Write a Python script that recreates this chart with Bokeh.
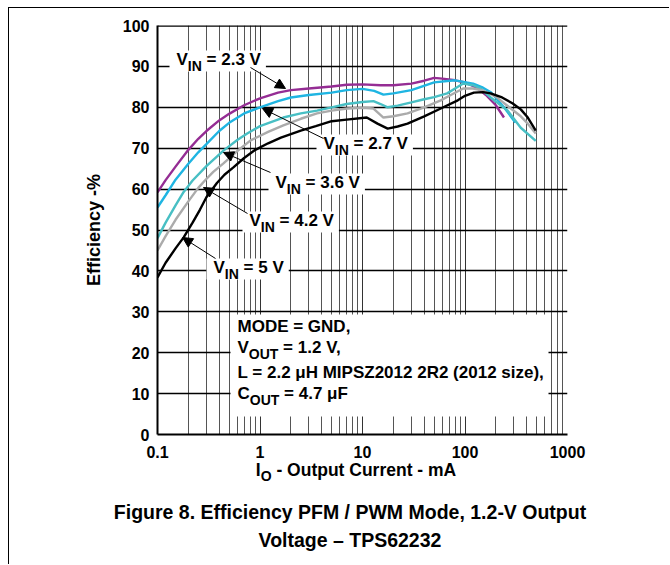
from bokeh.plotting import figure
from bokeh.layouts import column
from bokeh.models import (Range1d, FixedTicker, CustomJSTickFormatter, Label,
                          BoxAnnotation, Arrow, NormalHead, Span, Div, InlineStyleSheet)
from bokeh.embed import file_html
from bokeh.resources import INLINE

# ---------------- data ----------------
cur_23 = [0.1, 0.12, 0.15, 0.2, 0.25, 0.3, 0.4, 0.5, 0.7, 1, 1.5, 2, 3, 5, 7, 10, 15, 20, 30, 40, 50, 60, 80, 100, 130, 160, 200, 240]
eff_23 = [59.2, 62.2, 65.5, 69.6, 72.3, 74.2, 76.8, 78.4, 80.5, 82.2, 83.6, 84.2, 84.6, 85.1, 85.5, 85.6, 85.4, 85.4, 85.8, 86.5, 87.2, 87.0, 86.6, 86.1, 84.8, 83.0, 80.5, 77.5]

cur_27 = [0.1, 0.12, 0.15, 0.2, 0.25, 0.3, 0.4, 0.5, 0.7, 1, 1.5, 2, 3, 5, 7, 10, 13, 16, 20, 30, 50, 80, 120, 150, 180, 240, 310]
eff_27 = [55.5, 58.5, 62.3, 66.2, 69.0, 71.0, 74.2, 76.2, 78.5, 80.0, 81.5, 82.4, 83.0, 83.6, 84.2, 84.5, 84.0, 83.1, 83.4, 84.2, 86.1, 86.6, 85.8, 84.8, 83.6, 80.0, 76.3]

cur_36 = [0.1, 0.12, 0.15, 0.18, 0.22, 0.3, 0.44, 0.6, 0.75, 1.0, 1.69, 2.5, 3.6, 5, 7, 10, 12.8, 15, 17.6, 22, 30, 39, 50, 67, 80, 96, 120, 142, 178, 260, 350, 490]
eff_36 = [48.0, 51.8, 56.0, 59.3, 62.1, 65.6, 69.4, 72.0, 73.6, 75.4, 77.5, 78.5, 79.2, 80.0, 80.8, 81.3, 81.5, 80.8, 80.0, 80.4, 81.2, 81.9, 82.5, 83.4, 84.6, 85.8, 85.4, 84.6, 82.4, 79.2, 75.0, 71.8]

cur_42 = [0.1, 0.12, 0.15, 0.2, 0.25, 0.29, 0.35, 0.44, 0.6, 0.81, 1.2, 1.69, 2.5, 3.6, 5, 7.1, 10, 12.8, 16, 20, 27.5, 40, 58, 75, 96, 120, 150, 200, 280, 350, 410, 490]
eff_42 = [45.0, 48.5, 52.5, 57.0, 60.3, 62.1, 64.2, 66.3, 69.3, 71.9, 74.0, 75.6, 77.2, 78.5, 79.2, 79.7, 79.9, 79.7, 77.5, 77.8, 78.5, 80.0, 81.7, 83.2, 84.6, 84.6, 84.1, 82.6, 79.7, 77.8, 76.0, 73.6]

cur_50 = [0.1, 0.12, 0.15, 0.18, 0.22, 0.26, 0.3, 0.38, 0.45, 0.55, 0.7, 0.9, 1.2, 1.6, 2.5, 3.5, 5, 7, 11, 14, 17.6, 22, 27.5, 40, 58, 85, 100, 122, 150, 178, 230, 290, 350, 410, 490]
eff_50 = [38.4, 42.0, 45.5, 48.2, 51.8, 55.0, 58.0, 61.5, 63.5, 65.3, 67.6, 69.6, 71.2, 72.6, 74.3, 75.4, 76.6, 77.0, 77.5, 76.0, 74.8, 75.3, 76.0, 77.8, 79.7, 81.7, 82.8, 83.6, 83.7, 83.4, 82.4, 81.0, 79.5, 77.5, 74.3]

series_names = ["2.3 V", "2.7 V", "3.6 V", "4.2 V", "5 V"]

x_ticks = [0.1, 1, 10, 100, 1000]
x_tick_labels = ["0.1", "1", "10", "100", "1000"]
x_minor = [m * d for d in (0.1, 1, 10, 100) for m in range(2, 10)]
y_ticks = list(range(0, 101, 10))

caption_1 = "Figure 8. Efficiency PFM / PWM Mode, 1.2-V Output"
caption_2 = "Voltage – TPS62232"

# ---------------- layout helpers ----------------
W, H = 670, 462
FL, FT, FR, FB = 157, 25, 567, 434      # plot frame in page px

def X(px):   # page px -> data x
    return 10 ** (-1 + 4.0 * (px - FL) / (FR - FL))

def Y(py):   # page px -> data y
    return 100.0 * (FB - py) / (FB - FT)

FONT = "Liberation Sans"
AW = {' ': 278, '=': 584, '.': 278, ',': 278, '-': 333, '(': 333, ')': 333, '%': 889,
      'A': 722, 'C': 722, 'D': 722, 'E': 667, 'F': 611, 'G': 778, 'H': 722, 'I': 278,
      'L': 611, 'M': 833, 'N': 722, 'O': 778, 'P': 667, 'R': 722, 'S': 667, 'T': 611,
      'U': 722, 'V': 667, 'W': 944, 'Z': 611, 'μ': 576, 's': 556, 'i': 278, 'z': 500,
      'e': 556}

def tw(s, size):
    return sum(AW.get(c, 556) for c in s) * size / 1000.0

p = figure(width=W, height=H, x_axis_type="log",
           x_range=Range1d(0.1, 1000), y_range=Range1d(0, 100),
           output_backend="svg", toolbar_location=None,
           min_border_left=FL, min_border_right=W - FR,
           min_border_top=FT, min_border_bottom=H - FB)
p.outline_line_color = None
p.background_fill_color = "white"
p.border_fill_color = "white"

# axes
p.xaxis.ticker = FixedTicker(ticks=x_ticks, minor_ticks=x_minor)
p.xaxis.formatter = CustomJSTickFormatter(args=dict(xt=x_ticks, xl=x_tick_labels), code="""
const i = xt.findIndex(t => Math.abs(Math.log10(t) - Math.log10(tick)) < 1e-6);
return i >= 0 ? xl[i] : '';
""")
p.yaxis.ticker = FixedTicker(ticks=y_ticks)
for ax in (p.xaxis, p.yaxis):
    ax.axis_line_color = "black"
    ax.axis_line_width = 2
    ax.major_tick_line_color = None
    ax.minor_tick_line_color = None
    ax.major_label_text_font = FONT
    ax.major_label_text_font_style = "bold"
    ax.major_label_text_font_size = "16px"
    ax.major_label_text_color = "black"
p.yaxis.major_label_standoff = 2
p.xaxis.major_label_standoff = 5
p.yaxis.axis_label = "Efficiency -%"
p.yaxis.axis_label_text_font = FONT
p.yaxis.axis_label_text_font_style = "bold"
p.yaxis.axis_label_text_font_size = "18px"
p.yaxis.axis_label_text_color = "black"
p.yaxis.axis_label_standoff = 16

# grids
p.xgrid.grid_line_color = "#333333"
p.xgrid.grid_line_width = 1
p.xgrid.minor_grid_line_color = "#555555"
p.xgrid.minor_grid_line_width = 1
p.ygrid.grid_line_color = "black"
p.ygrid.grid_line_width = 1.3
p.add_layout(Span(location=100, dimension="width", line_color="black", line_width=2.5))

# curves
colors = ["#952D94", "#1FB5E2", "#48BFC4", "#ABABAB", "#000000"]
for xs, ys, c in zip([cur_23, cur_27, cur_36, cur_42, cur_50],
                     [eff_23, eff_27, eff_36, eff_42, eff_50], colors):
    p.line(xs, ys, line_color=c, line_width=2.4)

# white label backgrounds + labels
def comp(left, cy, parts, boxpad=None):
    x = left
    placed = []
    for txt, size, dy, gap in parts:
        x += gap
        placed.append((x, txt, size, dy))
        x += tw(txt, size)
    if boxpad is not None:
        l, r, t, b = boxpad
        p.add_layout(BoxAnnotation(left=X(left - l), right=X(x + r), top=Y(cy - t),
                                   bottom=Y(cy + b), fill_color="white", fill_alpha=1,
                                   line_color=None, level="annotation"))
    for px, txt, size, dy in placed:
        p.add_layout(Label(x=X(px), y=Y(cy + dy), text=txt, text_font=FONT,
                           text_font_style="bold", text_font_size=f"{size}px",
                           text_color="black", text_baseline="middle", text_align="left"))
    return x

def vin(left, cy, name):
    return comp(left, cy, [("V", 17, 0, 0), ("IN", 14, 6, 0),
                           ("= " + name, 17, 0, tw(" ", 17))], boxpad=(7, 5, 9, 12))

label_pos = [(176, 59), (323, 143), (275, 182), (249, 220), (213, 267)]
arrows = [((250, 67), (285, 88)), ((323, 138), (262, 108)), ((270, 172), (223, 152)),
          ((247, 213), (203, 187)), ((215, 258), (182, 237))]
for name, (lx, ly) in zip(series_names, label_pos):
    vin(lx, ly, name)
for (s, e) in arrows:
    p.add_layout(Arrow(end=NormalHead(size=10, fill_color="black", line_color="black"),
                       x_start=X(s[0]), y_start=Y(s[1]), x_end=X(e[0]), y_end=Y(e[1]),
                       line_color="black", line_width=1))

# conditions box
p.add_layout(BoxAnnotation(left=X(230), right=X(548), top=Y(314), bottom=Y(416),
                           fill_color="white", fill_alpha=1, line_color=None))
comp(237, 326, [("MODE = GND,", 17, 0, 0)])
comp(237, 347, [("V", 17, 0, 0), ("OUT", 14, 6, 0), ("= 1.2 V,", 17, 0, tw(" ", 17))])
comp(237, 372, [("L = 2.2 μH MIPSZ2012 2R2 (2012 size),", 17, 0, 0)])
comp(237, 393, [("C", 17, 0, 0), ("OUT", 14, 6, 0), ("= 4.7 μF", 17, 0, tw(" ", 17))])

# x-axis title (with subscript) and figure caption, below the canvas
DH = 565 - H - 1
html = f"""
<div style="position:relative;width:{W}px;height:{DH}px;font-family:'{FONT}';font-weight:bold;color:#000;">
  <div style="position:absolute;left:0;top:-2px;width:712px;text-align:center;font-size:17.5px;line-height:20px;white-space:nowrap;">I<span style="font-size:14px;position:relative;top:5px;">O</span> - Output Current - mA</div>
  <div style="position:absolute;left:0;top:39px;width:700px;text-align:center;font-size:19.5px;line-height:22px;white-space:nowrap;">{caption_1}</div>
  <div style="position:absolute;left:0;top:67px;width:700px;text-align:center;font-size:19.5px;line-height:22px;white-space:nowrap;">{caption_2}</div>
</div>
"""
div = Div(text=html, width=W, height=DH, margin=0)

frame_css = InlineStyleSheet(css="""
:host::after { content: ""; position: absolute; left: 8px; top: 7px; right: 1px; bottom: 0px;
  border-left: 1.5px solid #000; border-top: 1.5px solid #000; pointer-events: none; z-index: 10; }
""")
layout = column(p, div, spacing=0, stylesheets=[frame_css])

open("out.html", "w").write(file_html(layout, INLINE))
